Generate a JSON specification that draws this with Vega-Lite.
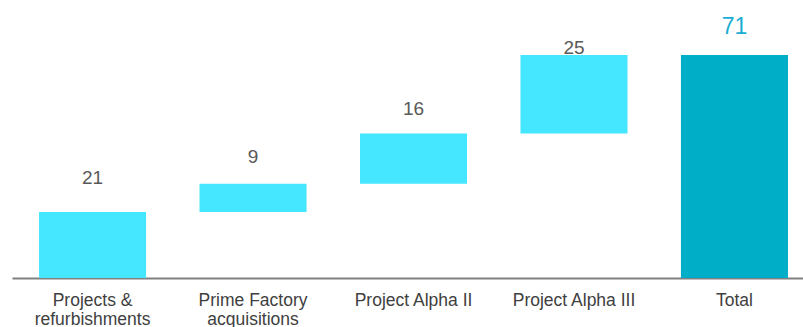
{
  "$schema": "https://vega.github.io/schema/vega-lite/v6.json",
  "width": 791,
  "height": 223,
  "autosize": {"type": "none"},
  "padding": {"left": 12, "top": 55, "right": 0, "bottom": 49},
  "background": "white",
  "config": {"view": {"stroke": null}, "font": "Liberation Sans"},
  "data": {
    "values": [
      {"category": "Projects & refurbishments", "start": 0, "end": 21, "value": 21, "kind": "step"},
      {"category": "Prime Factory acquisitions", "start": 21, "end": 30, "value": 9, "kind": "step"},
      {"category": "Project Alpha II", "start": 30, "end": 46, "value": 16, "kind": "step"},
      {"category": "Project Alpha III", "start": 46, "end": 71, "value": 25, "kind": "step"},
      {"category": "Total", "start": 0, "end": 71, "value": 71, "kind": "total"}
    ]
  },
  "encoding": {
    "x": {
      "field": "category",
      "type": "nominal",
      "sort": null,
      "scale": {"paddingInner": 0.333, "paddingOuter": 0.131, "align": 0.643},
      "axis": {
        "title": null,
        "ticks": false,
        "domainColor": "#808080",
        "domainWidth": 2,
        "labelAngle": 0,
        "labelColor": "#404040",
        "labelFont": "Liberation Sans",
        "labelFontSize": 17.5,
        "labelLineHeight": 19,
        "labelPadding": 13,
        "labelExpr": "datum.label == 'Projects & refurbishments' ? ['Projects &', 'refurbishments'] : datum.label == 'Prime Factory acquisitions' ? ['Prime Factory', 'acquisitions'] : datum.label"
      }
    }
  },
  "layer": [
    {
      "mark": {"type": "bar"},
      "encoding": {
        "y": {"field": "start", "type": "quantitative", "scale": {"domain": [0, 71], "nice": false, "zero": true}, "axis": null},
        "y2": {"field": "end"},
        "color": {
          "field": "kind",
          "type": "nominal",
          "scale": {"domain": ["step", "total"], "range": ["#45E6FF", "#00AEC7"]},
          "legend": null
        }
      }
    },
    {
      "transform": [{"filter": "datum.kind == 'step'"}],
      "mark": {
        "type": "text",
        "baseline": "middle",
        "fontSize": 19,
        "color": "#595959",
        "font": "Liberation Sans",
        "dy": {"expr": "datum.value == 21 ? -34 : datum.value == 9 ? -27 : datum.value == 16 ? -25 : -7"}
      },
      "encoding": {
        "y": {"field": "end", "type": "quantitative"},
        "text": {"field": "value", "type": "quantitative"}
      }
    },
    {
      "transform": [{"filter": "datum.kind == 'total'"}],
      "mark": {
        "type": "text",
        "baseline": "middle",
        "fontSize": 23,
        "color": "#1AAED3",
        "font": "Liberation Sans",
        "dy": -28
      },
      "encoding": {
        "y": {"field": "end", "type": "quantitative"},
        "text": {"field": "value", "type": "quantitative"}
      }
    }
  ]
}
